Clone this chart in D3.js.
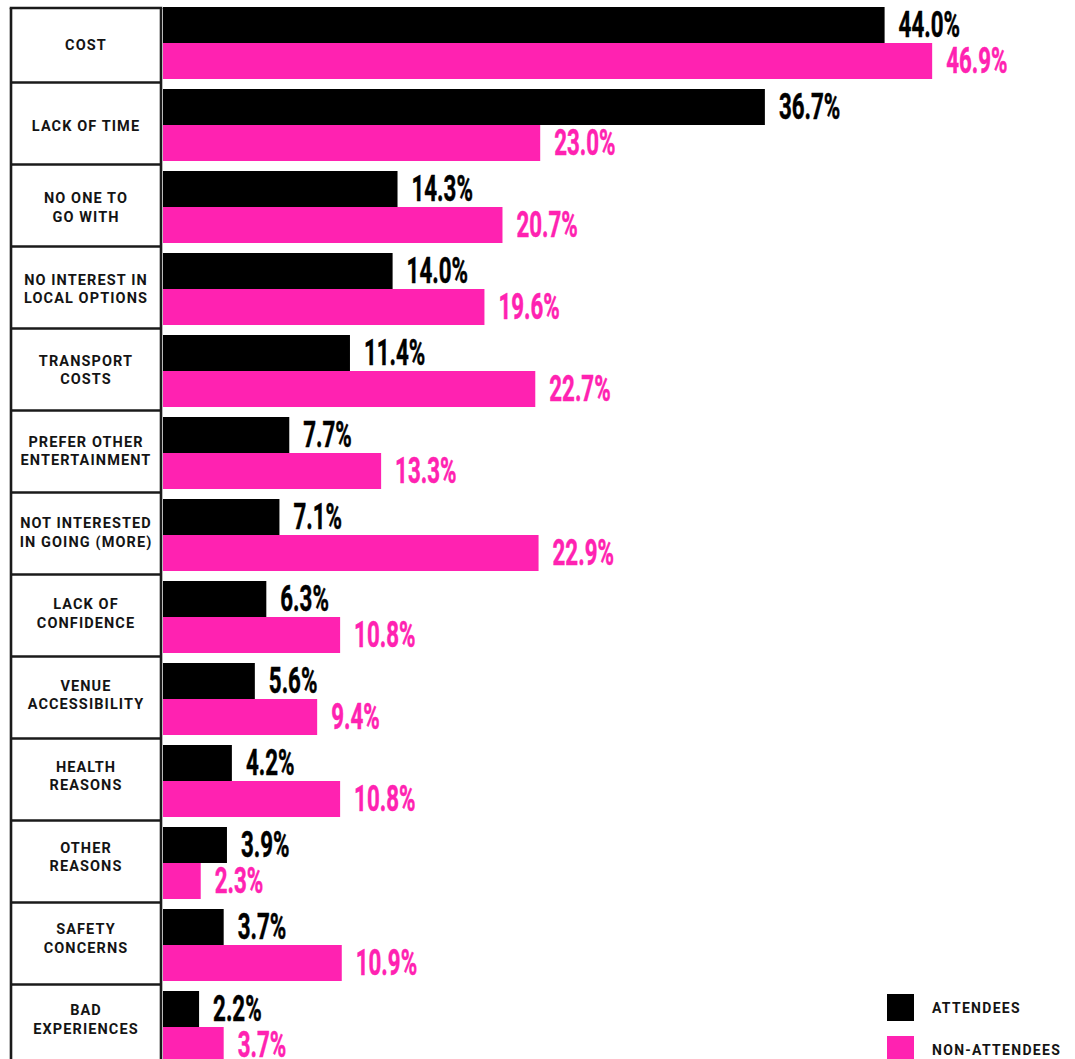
<!DOCTYPE html>
<html>
<head>
<meta charset="utf-8">
<script src="https://cdn.jsdelivr.net/npm/d3@7/dist/d3.min.js"></script>
<style>
  html, body { margin: 0; padding: 0; background: #ffffff; }
  svg { display: block; }
</style>
</head>
<body>
<svg id="chart" width="1075" height="1059"></svg>
<script>
// Reasons for not attending (more), share of respondents in %
const categories = [
  ["COST"],
  ["LACK OF TIME"],
  ["NO ONE TO", "GO WITH"],
  ["NO INTEREST IN", "LOCAL OPTIONS"],
  ["TRANSPORT", "COSTS"],
  ["PREFER OTHER", "ENTERTAINMENT"],
  ["NOT INTERESTED", "IN GOING (MORE)"],
  ["LACK OF", "CONFIDENCE"],
  ["VENUE", "ACCESSIBILITY"],
  ["HEALTH", "REASONS"],
  ["OTHER", "REASONS"],
  ["SAFETY", "CONCERNS"],
  ["BAD", "EXPERIENCES"]
];
const attendees    = [44.0, 36.7, 14.3, 14.0, 11.4, 7.7, 7.1, 6.3, 5.6, 4.2, 3.9, 3.7, 2.2];
const nonAttendees = [46.9, 23.0, 20.7, 19.6, 22.7, 13.3, 22.9, 10.8, 9.4, 10.8, 2.3, 10.9, 3.7];
const seriesNames  = ["ATTENDEES", "NON-ATTENDEES"];
const seriesColors = ["#000000", "#ff22b1"];

const svg = d3.select("#chart");
const keys = categories.map(c => c.join(" "));

const rows = keys.map((k, i) => ({
  key: k,
  lines: categories[i],
  values: [attendees[i], nonAttendees[i]]
}));

// Layout
const boxLeft = 11, boxRight = 161, barLeft = 163;
const y = d3.scaleBand().domain(keys).range([7, 7 + 82 * keys.length]).paddingInner(0).paddingOuter(0);
const ySeries = d3.scaleBand().domain([0, 1]).range([0, 72]);
const yLabel = d3.scalePoint().domain(keys).range([44.8, 44.8 + 81.2 * (keys.length - 1)]);
const x = d3.scaleLinear().domain([0, 50]).range([barLeft, barLeft + 820]);

// Category boxes
const grid = svg.append("g").attr("stroke", "#1a1a1a").attr("stroke-width", 2.6).attr("fill", "none");
grid.append("line").attr("x1", boxLeft - 1.3).attr("x2", boxRight + 1.3).attr("y1", 8).attr("y2", 8);
grid.selectAll("line.sep")
  .data(keys.slice(1))
  .join("line")
  .attr("class", "sep")
  .attr("x1", boxLeft).attr("x2", boxRight)
  .attr("y1", d => y(d) - 6.5).attr("y2", d => y(d) - 6.5);
grid.append("line").attr("x1", boxLeft).attr("x2", boxLeft).attr("y1", 8).attr("y2", 1070);
grid.append("line").attr("x1", boxRight).attr("x2", boxRight).attr("y1", 8).attr("y2", 1070);

// Category labels
const labelFont = "Roboto, 'DejaVu Sans', sans-serif";
svg.append("g")
  .selectAll("text")
  .data(rows)
  .join("text")
  .attr("x", (boxLeft + boxRight) / 2)
  .attr("text-anchor", "middle")
  .attr("font-family", labelFont)
  .attr("font-weight", 700)
  .attr("font-size", 14.5)
  .attr("letter-spacing", 1.1)
  .attr("fill", "#141414")
  .each(function (d) {
    const cy = yLabel(d.key);
    const n = d.lines.length;
    d3.select(this).selectAll("tspan")
      .data(d.lines)
      .join("tspan")
      .attr("x", (boxLeft + boxRight) / 2)
      .attr("y", (t, i) => cy + (i - (n - 1) / 2) * 18.4 + 5.3)
      .text(t => t);
  });

// Bars
const groups = svg.append("g")
  .selectAll("g")
  .data(rows)
  .join("g")
  .attr("transform", d => `translate(0,${y(d.key)})`);

groups.selectAll("rect")
  .data(d => d.values.map((v, i) => ({ v, i })))
  .join("rect")
  .attr("x", x(0))
  .attr("y", d => ySeries(d.i))
  .attr("width", d => x(d.v) - x(0))
  .attr("height", ySeries.bandwidth())
  .attr("fill", d => seriesColors[d.i]);

// Value labels (condensed)
groups.selectAll("text")
  .data(d => d.values.map((v, i) => ({ v, i })))
  .join("text")
  .attr("transform", d => `translate(${x(d.v) + 14},${ySeries(d.i) + ySeries.bandwidth() / 2 + 12}) scale(0.62,1)`)
  .attr("font-family", labelFont)
  .attr("font-weight", 700)
  .attr("font-size", 36)
  .attr("fill", d => seriesColors[d.i])
  .attr("stroke", d => seriesColors[d.i])
  .attr("stroke-width", 0.5)
  .text(d => d.v.toFixed(1) + "%");

// Legend
const legend = svg.append("g")
  .selectAll("g")
  .data(seriesNames)
  .join("g")
  .attr("transform", (d, i) => `translate(887,${994 + i * 42})`);
legend.append("rect")
  .attr("width", 27).attr("height", 27)
  .attr("fill", (d, i) => seriesColors[i]);
legend.append("text")
  .attr("x", 45).attr("y", 19)
  .attr("font-family", labelFont)
  .attr("font-weight", 700)
  .attr("font-size", 14)
  .attr("letter-spacing", 1.3)
  .attr("fill", "#141414")
  .text(d => d);
</script>
</body>
</html>
